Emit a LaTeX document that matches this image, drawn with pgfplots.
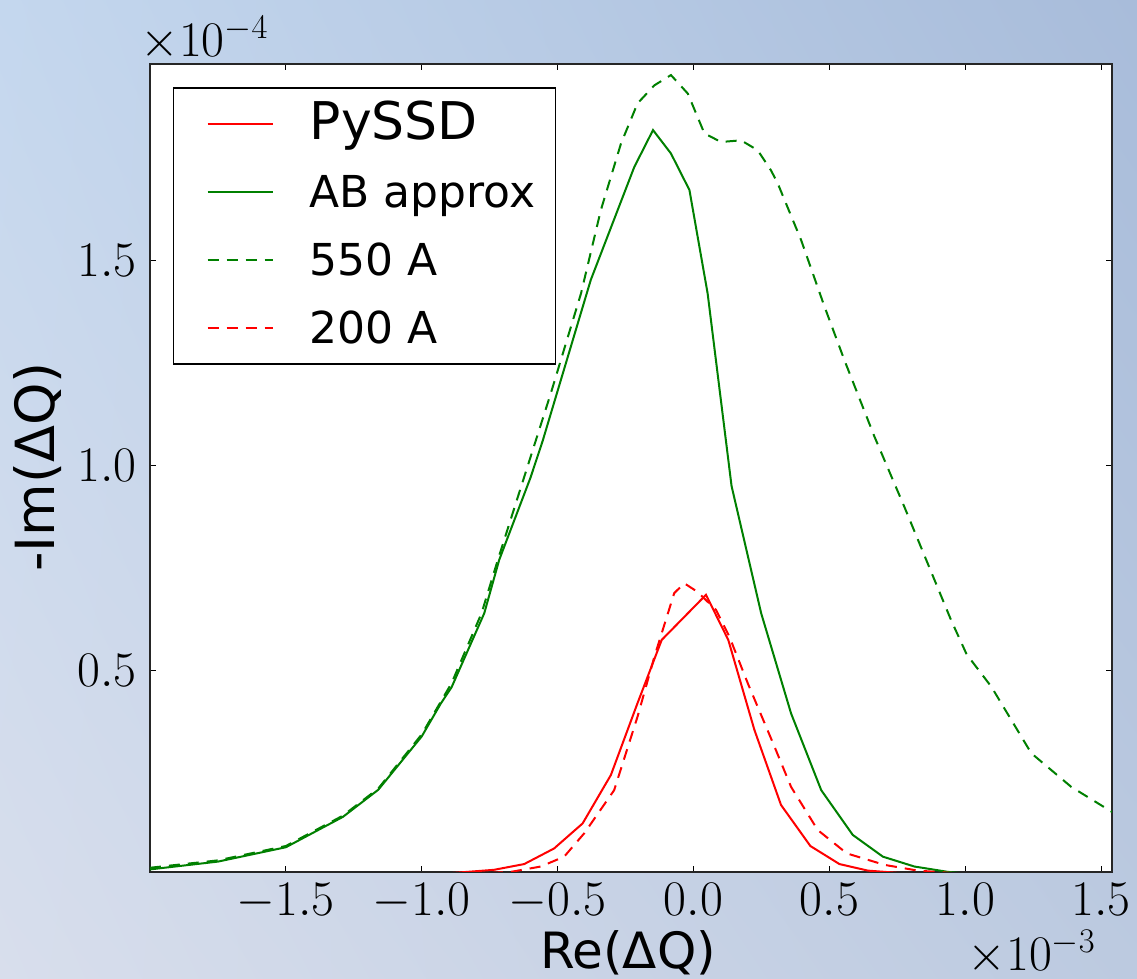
\documentclass[border=0pt]{standalone}
\usepackage{fontspec}
\usepackage{pgfplots}
\pgfplotsset{compat=1.18}
\usetikzlibrary{shadings}
\newfontfamily\dv{DejaVu Sans}
\definecolor{mplred}{RGB}{255,0,0}
\definecolor{mplgreen}{RGB}{0,128,0}
\definecolor{bgUL}{RGB}{196,215,238}
\definecolor{bgUR}{RGB}{168,188,218}
\definecolor{bgLL}{RGB}{216,222,236}
\definecolor{bgLR}{RGB}{188,202,224}
\begin{document}
\begin{tikzpicture}
\useasboundingbox (0,0) rectangle (568.5pt,489.5pt);
\shade[upper left=bgUL, upper right=bgUR, lower left=bgLL, lower right=bgLR] (0,0) rectangle (568.5pt,489.5pt);
\begin{axis}[
  at={(75pt,53.5pt)}, anchor=south west,
  scale only axis, width=481pt, height=404pt,
  xmin=-2.0, xmax=1.54, ymin=0.0097, ymax=1.978,
  axis background/.style={fill=white},
  axis line style={black!85, line width=0.9pt},
  tick align=inside, major tick length=3pt,
  every tick/.style={black, line width=0.5pt},
  xtick={-1.5,-1.0,-0.5,0,0.5,1.0,1.5},
  ytick={0.5,1.0,1.5},
  scaled ticks=false,
  ticklabel style={font=\fontsize{27.5}{33}\selectfont, inner sep=0pt},
  x tick label style={/pgf/number format/.cd, fixed, fixed zerofill, precision=1, /tikz/.cd, yshift=-5.5pt},
  y tick label style={/pgf/number format/.cd, fixed, fixed zerofill, precision=1, /tikz/.cd, xshift=-6.5pt},
  legend style={at={(0.0239,0.9715)}, anchor=north west, draw=black, line width=0.75pt,
    fill=white, inner xsep=16.5pt, inner ysep=1pt, row sep=0pt, font=\dv,
    cells={anchor=west}, nodes={inner sep=0pt, text height=25pt, text depth=9pt},
    /tikz/every odd column/.append style={column sep=18pt}},
  legend image code/.code={\draw (0pt,0pt) -- (32.5pt,0pt);},
]
% PySSD
\addplot[mplred, line width=1pt] coordinates {
(-2.0,0.0) (-1.2,0.001) (-0.93,0.005) (-0.734,0.015) (-0.623,0.029) (-0.513,0.067)
(-0.408,0.128) (-0.304,0.246) (-0.206,0.421) (-0.117,0.575) (0.046,0.685)
(0.128,0.575) (0.224,0.356) (0.322,0.173) (0.430,0.073) (0.537,0.029)
(0.642,0.013) (0.764,0.007) (1.0,0.002) (1.54,0.0)
};
\addlegendentry{\fontsize{26}{30}\selectfont\makebox[106.5pt][l]{PySSD}}
% AB approx
\addplot[mplgreen, line width=1pt] coordinates {
(-2.0,0.016) (-1.75,0.035) (-1.5,0.070) (-1.29,0.144) (-1.16,0.21) (-1.0,0.34)
(-0.93,0.42) (-0.89,0.46) (-0.77,0.64) (-0.715,0.77) (-0.60,0.97) (-0.555,1.06)
(-0.378,1.452) (-0.218,1.727) (-0.149,1.817) (-0.083,1.760) (-0.015,1.671)
(0.052,1.419) (0.140,0.950) (0.249,0.640) (0.359,0.396) (0.470,0.209)
(0.586,0.100) (0.697,0.047) (0.813,0.023) (0.936,0.010) (1.0,0.006) (1.2,0.002) (1.54,0.0)
};
\addlegendentry{\fontsize{22}{26}\selectfont\makebox[106.5pt][l]{AB approx}}
% 550 A
\addplot[mplgreen, line width=1pt, dash pattern=on 5.5pt off 4pt] coordinates {
(-2.0,0.020) (-1.75,0.038) (-1.5,0.073) (-1.29,0.147) (-1.16,0.213) (-1.0,0.345)
(-0.89,0.47) (-0.78,0.64) (-0.72,0.77) (-0.623,0.972) (-0.525,1.176)
(-0.414,1.419) (-0.341,1.622) (-0.267,1.784) (-0.206,1.882) (-0.144,1.926)
(-0.083,1.951) (-0.021,1.906) (0.040,1.809) (0.101,1.788) (0.175,1.792)
(0.236,1.768) (0.285,1.719) (0.310,1.687) (0.396,1.549) (0.482,1.387)
(0.555,1.257) (0.666,1.070) (0.776,0.899) (0.948,0.623) (1.005,0.540)
(1.096,0.461) (1.243,0.299) (1.390,0.217) (1.540,0.156)
};
\addlegendentry{\fontsize{22}{26}\selectfont\makebox[106.5pt][l]{550 A}}
% 200 A
\addplot[mplred, line width=1pt, dash pattern=on 5.5pt off 4pt] coordinates {
(-2.0,0.0) (-1.2,0.001) (-0.85,0.004) (-0.672,0.010) (-0.562,0.023) (-0.476,0.047)
(-0.402,0.104) (-0.292,0.209) (-0.206,0.388) (-0.144,0.534) (-0.071,0.689)
(-0.034,0.713) (0.015,0.692) (0.083,0.648) (0.132,0.583) (0.200,0.469)
(0.298,0.315) (0.359,0.217) (0.457,0.112) (0.564,0.055) (0.703,0.027)
(0.826,0.013) (1.0,0.005) (1.54,0.0)
};
\addlegendentry{\fontsize{22}{26}\selectfont\makebox[106.5pt][l]{200 A}}
\end{axis}
\node[rotate=90, anchor=base, inner sep=0pt, font=\fontsize{27}{32}\selectfont\dv] at (27.5pt,256pt) {-Im(ΔQ)};
\node[anchor=base, inner sep=0pt, font=\fontsize{25}{30}\selectfont\dv] at (314pt,5pt) {Re(ΔQ)};
\node[anchor=base west, inner sep=0pt, font=\fontsize{27}{32}\selectfont] at (70pt,461pt) {$\times10^{-4}$};
\node[anchor=base east, inner sep=0pt, font=\fontsize{26.5}{32}\selectfont] at (548pt,4pt) {$\times10^{-3}$};
\end{tikzpicture}
\end{document}
